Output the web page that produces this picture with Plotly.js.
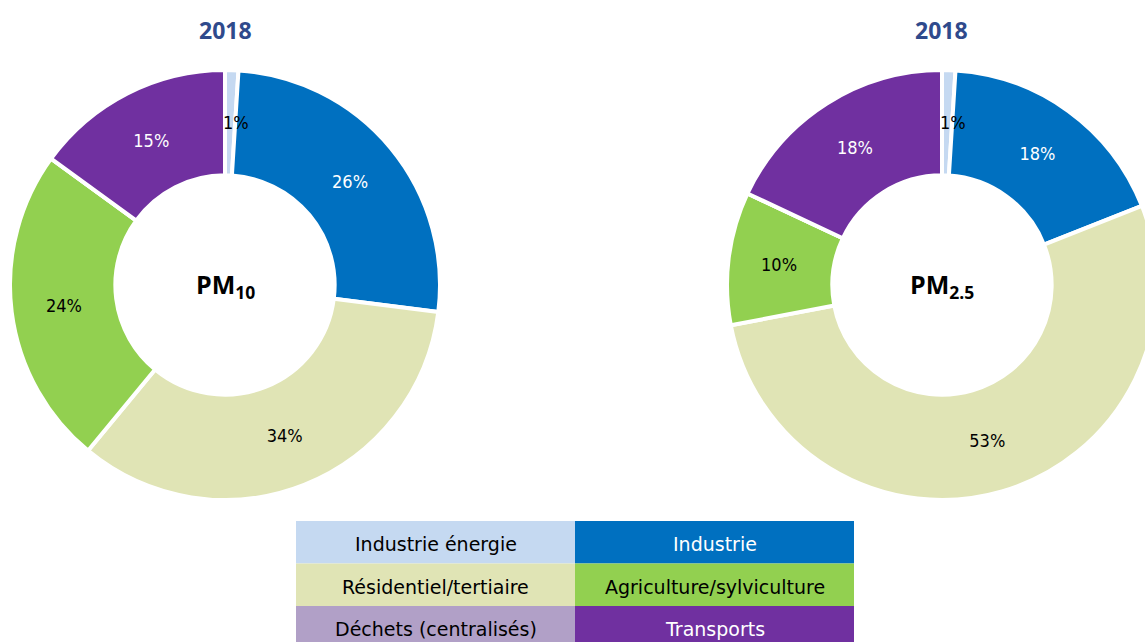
<!DOCTYPE html>
<html><head><meta charset="utf-8">
<script src="https://cdn.plot.ly/plotly-3.0.1.min.js"></script>
<style>html,body{margin:0;padding:0;overflow:hidden;background:#fff;}#chart{width:1160px;height:642px;}</style>
</head><body><div id="chart"></div>
<script>
const categories = ['Industrie énergie','Industrie','Résidentiel/tertiaire','Agriculture/sylviculture','Déchets (centralisés)','Transports'];
const pm10 = [1, 26, 34, 24, 0, 15];
const pm25 = [1, 18, 53, 10, 0, 18];
const colors = ['#C5D9F1','#0070C0','#E0E4B5','#92D050','#B1A0C7','#7030A0'];
const textColors = ['#000000','#FFFFFF','#000000','#000000','#000000','#FFFFFF'];
const years = ['2018','2018'];
const centerLabels = ['<b>PM<sub>10</sub></b>','<b>PM<sub>2.5</sub></b>'];

const W = 1160, H = 642;
const px = v => v / W, py = v => 1 - v / H;
const domains = [
  {x:[px(10), px(440)], y:[py(500), py(70)]},
  {x:[px(727), px(1157)], y:[py(500), py(70)]}
];
const pctFont = 'DejaVu Sans Condensed, Liberation Sans, Arial, sans-serif';
const legFont = 'DejaVu Sans, Verdana, sans-serif';
const outerR = 215, holeFrac = 0.51;
const smallLimit = 3; // slices too thin for inside text get an annotation

function pieTrace(vals, dom) {
  return {
    type:'pie', values: vals, labels: categories, sort:false, direction:'clockwise', rotation:0,
    hole: holeFrac, domain: dom,
    marker:{colors: colors, line:{color:'#FFFFFF', width:4}},
    text: vals.map(v => v + '%'),
    textinfo:'text', textposition: vals.map(v => v >= smallLimit ? 'inside' : 'none'),
    insidetextorientation:'horizontal',
    insidetextfont:{family: pctFont, size:18, color: textColors},
    hoverinfo:'label+percent', showlegend:false
  };
}

const data = [pieTrace(pm10, domains[0]), pieTrace(pm25, domains[1])];

const annotations = [];
[pm10, pm25].forEach((vals, i) => {
  const d = domains[i];
  const cxp = (d.x[0] + d.x[1]) / 2 * W, cyp = (1 - (d.y[0] + d.y[1]) / 2) * H;
  annotations.push({x: cxp / W, y: 1 - cyp / H, xref:'paper', yref:'paper', text: centerLabels[i], showarrow:false,
    font:{family:'Open Sans, sans-serif', size:25, color:'#000'}, xanchor:'center', yanchor:'middle'});
  annotations.push({x: cxp / W, y: py(30), xref:'paper', yref:'paper', text: '<b>' + years[i] + '</b>', showarrow:false,
    font:{family:'Open Sans, sans-serif', size:23, color:'#2F4A8C'}, xanchor:'center', yanchor:'middle'});
  // labels for thin slices, placed at slice mid-angle on the ring's middle
  const total = vals.reduce((a, b) => a + b, 0);
  let cum = 0;
  vals.forEach((v, k) => {
    const mid = cum + v / 2; cum += v;
    if (v > 0 && v < smallLimit) {
      const ang = mid / total * 2 * Math.PI;
      const r = outerR * (1 + holeFrac) / 2;
      const x = cxp + r * Math.sin(ang) + 6, y = cyp - r * Math.cos(ang);
      annotations.push({x: x / W, y: 1 - y / H, xref:'paper', yref:'paper', text: v + '%', showarrow:false,
        font:{family: pctFont, size:18, color: textColors[k]}, xanchor:'center', yanchor:'middle'});
    }
  });
});

// legend grid
const shapes = [];
const legLeft = 296, colW = 279, legTop = 521, rowH = 42.5;
categories.forEach((c, i) => {
  const col = i % 2, row = Math.floor(i / 2);
  const x0 = legLeft + col * colW, y0 = legTop + row * rowH;
  shapes.push({type:'rect', xref:'paper', yref:'paper', x0: px(x0), x1: px(x0 + colW), y0: py(y0 + rowH), y1: py(y0),
    fillcolor: colors[i], line:{width:0}, layer:'below'});
  annotations.push({x: px(x0 + colW/2), y: py(y0 + rowH/2 + 2), xref:'paper', yref:'paper', text: c, showarrow:false,
    font:{family: legFont, size:19, color: textColors[i]}, xanchor:'center', yanchor:'middle'});
});

const layout = {
  width: W, height: H, margin:{l:0, r:0, t:0, b:0},
  paper_bgcolor:'#FFFFFF', plot_bgcolor:'#FFFFFF',
  uniformtext:{minsize:18, mode:'show'},
  annotations: annotations, shapes: shapes, showlegend:false
};
Plotly.newPlot('chart', data, layout, {displayModeBar:false, staticPlot:true});
</script></body></html>
